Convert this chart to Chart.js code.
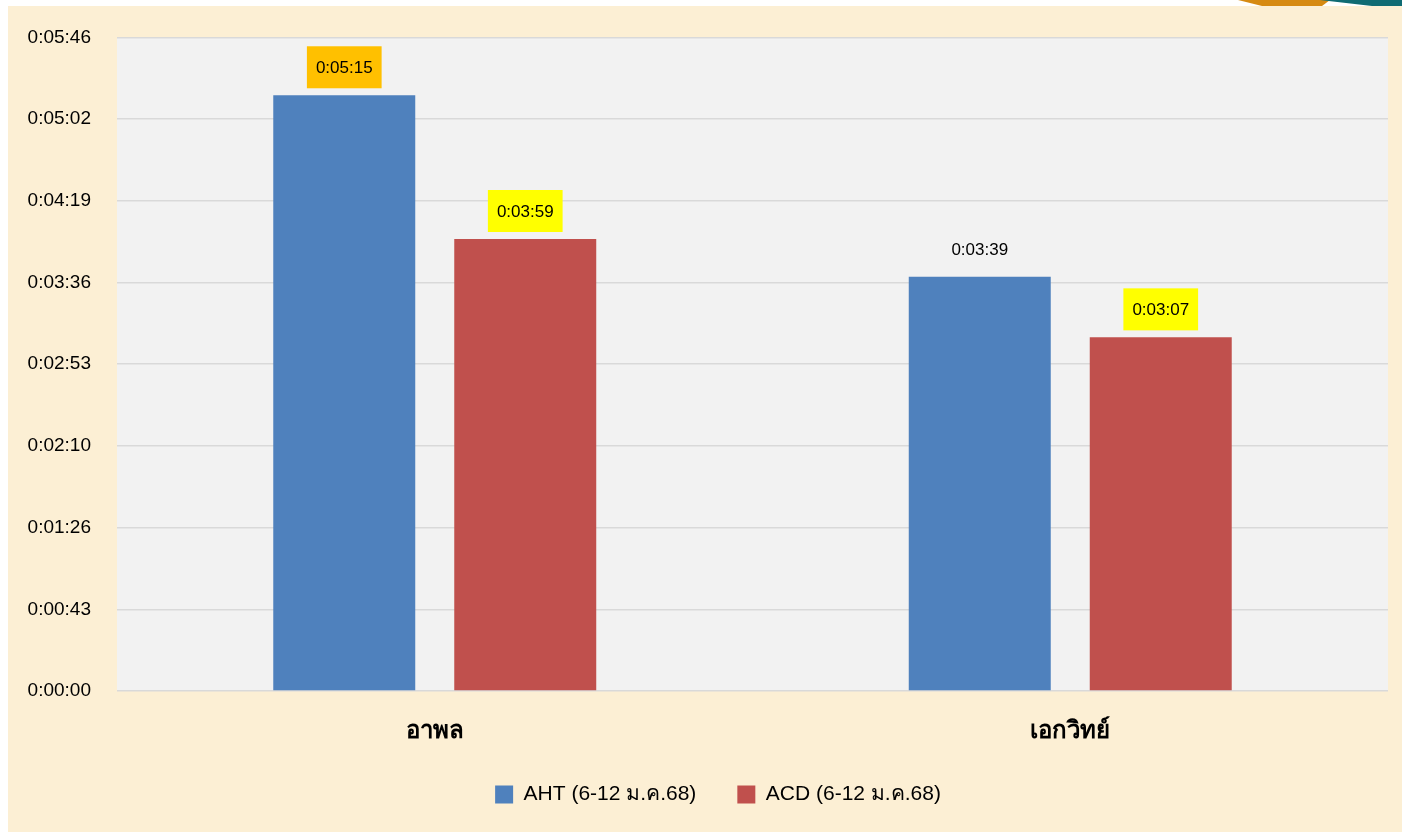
<!DOCTYPE html>
<html>
<head>
<meta charset="utf-8">
<script src="https://cdn.jsdelivr.net/npm/chart.js@4.4.1/dist/chart.umd.min.js"></script>
<style>
  html, body { margin: 0; padding: 0; background: #ffffff; }
  #wrap { position: relative; width: 1402px; height: 832px; }
</style>
</head>
<body>
<div id="wrap"><canvas id="timeChart" width="1402" height="832"></canvas></div>
<script>
// ข้อมูล (วินาที)
var categories = ['อาพล', 'เอกวิทย์'];
var ahtSeconds = [315, 219];
var acdSeconds = [239, 187];
var seriesNames = ['AHT (6-12 ม.ค.68)', 'ACD (6-12 ม.ค.68)'];
var ahtLabelBg = ['#ffc000', null];
var acdLabelBg = ['#ffff00', '#ffff00'];
var yTickSeconds = [0, 43.2, 86.4, 129.6, 172.8, 216, 259.2, 302.4, 345.6];

function fmtTime(sec) {
    var s = Math.round(sec);
    var h = Math.floor(s / 3600);
    var m = Math.floor((s % 3600) / 60);
    var r = s % 60;
    return h + ':' + String(m).padStart(2, '0') + ':' + String(r).padStart(2, '0');
}

Chart.defaults.font.family = '"Liberation Sans", Arial, sans-serif';
Chart.defaults.color = '#000000';

// พื้นหลังกระดาษ + พื้นที่กราฟสีเทา
var backgroundPlugin = {
    id: 'bgPaper',
    afterLayout: function (chart) {
        // เลื่อนคำอธิบายให้อยู่กึ่งกลางเหมือนต้นฉบับ
        chart.legend.left += 20;
        chart.legend.right += 20;
    },
    beforeDraw: function (chart) {
        var c = chart.ctx;
        var a = chart.chartArea;
        c.save();
        c.fillStyle = '#ffffff';
        c.fillRect(0, 0, chart.width, chart.height);
        c.fillStyle = '#fcefd4';
        c.fillRect(8, 6, chart.width - 8, chart.height - 6);
        // ลายตกแต่งมุมขวาบน
        c.fillStyle = '#d68a12';
        c.beginPath();
        c.moveTo(1238, 0); c.lineTo(1330, 0); c.lineTo(1322, 6); c.lineTo(1262, 6);
        c.closePath(); c.fill();
        c.fillStyle = '#0f6b73';
        c.beginPath();
        c.moveTo(1320, 0); c.lineTo(1402, 0); c.lineTo(1402, 6); c.lineTo(1372, 6);
        c.closePath(); c.fill();
        c.fillStyle = '#f2f2f2';
        c.fillRect(a.left, a.top, a.right - a.left, a.bottom - a.top);
        c.restore();
    }
};

// ป้ายค่าบนแท่ง
var valueLabelPlugin = {
    id: 'valueLabels',
    afterDatasetsDraw: function (chart) {
        var c = chart.ctx;
        var bgs = [ahtLabelBg, acdLabelBg];
        c.save();
        c.font = '17px "Liberation Sans", Arial, sans-serif';
        c.textAlign = 'center';
        c.textBaseline = 'middle';
        chart.data.datasets.forEach(function (ds, di) {
            var meta = chart.getDatasetMeta(di);
            meta.data.forEach(function (bar, i) {
                var txt = fmtTime(ds.data[i]);
                var w = c.measureText(txt).width + 18;
                var h = 42;
                var bottom = bar.y - 7;
                if (bgs[di][i]) {
                    c.fillStyle = bgs[di][i];
                    c.fillRect(bar.x - w / 2, bottom - h, w, h);
                }
                c.fillStyle = '#000000';
                c.fillText(txt, bar.x, bottom - h / 2 + 1);
            });
        });
        c.restore();
    }
};

var ctx = document.getElementById('timeChart').getContext('2d');
var timeChart = new Chart(ctx, {
    type: 'bar',
    data: {
        labels: categories,
        datasets: [{
            label: seriesNames[0],
            data: ahtSeconds,
            backgroundColor: '#4f81bd'
        }, {
            label: seriesNames[1],
            data: acdSeconds,
            backgroundColor: '#c0504d'
        }]
    },
    options: {
        responsive: false,
        animation: false,
        categoryPercentage: 0.5696,
        barPercentage: 0.7845,
        layout: { padding: { top: 37, right: 14, left: 8, bottom: 17 } },
        plugins: {
            legend: {
                position: 'bottom',
                labels: {
                    boxWidth: 18,
                    boxHeight: 18,
                    padding: 41,
                    font: { size: 21 },
                    generateLabels: function (chart) {
                        var items = Chart.defaults.plugins.legend.labels.generateLabels(chart);
                        items.forEach(function (it) { it.lineWidth = 0; });
                        return items;
                    }
                }
            },
            tooltip: { enabled: false }
        },
        scales: {
            x: {
                grid: { display: false },
                border: { display: false },
                ticks: { font: { size: 24, weight: 'bold' }, padding: 18 },
                afterFit: function (s) { s.height = 52; }
            },
            y: {
                min: 0,
                max: 345.6,
                afterBuildTicks: function (s) {
                    s.ticks = yTickSeconds.map(function (v) { return { value: v }; });
                },
                grid: { color: '#d9d9d9', lineWidth: 1.5, drawTicks: false },
                border: { display: false },
                ticks: {
                    font: { size: 19 },
                    padding: 26,
                    callback: function (v) { return fmtTime(v); }
                },
                afterFit: function (s) { s.width = 109; }
            }
        }
    },
    plugins: [backgroundPlugin, valueLabelPlugin]
});
</script>
</body>
</html>
